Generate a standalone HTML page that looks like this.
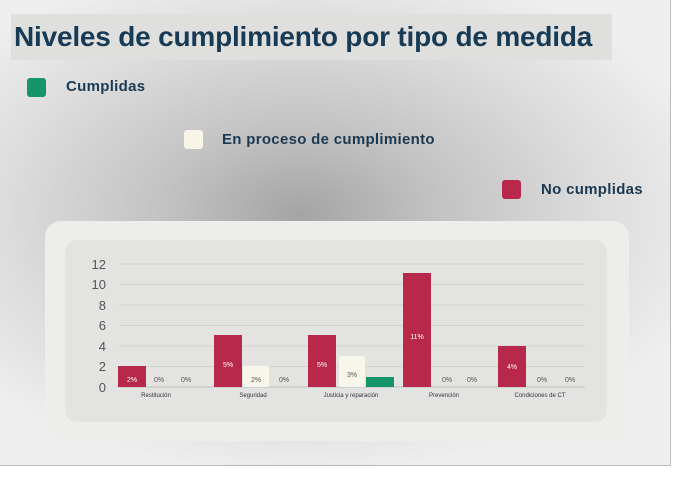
<!DOCTYPE html>
<html><head><meta charset="utf-8"><style>
body{margin:0;width:687px;height:480px;background:#fff;position:relative;overflow:hidden;font-family:"Liberation Sans",sans-serif}
#bg{position:absolute;left:0;top:0;width:670px;height:465px;background:radial-gradient(ellipse 420px 260px at 300px 215px,#a4a4a4 0%,#c4c4c4 35%,#dcdcdc 70%,#eeeeee 100%);border-right:1px solid #bbb;border-bottom:1px solid #bbb}
.t{position:absolute;left:11px;top:14px;width:601px;height:46px;background:#dfdfde;color:#173a55;font-weight:bold;font-size:28px;line-height:46px;padding-left:3px;box-sizing:border-box;letter-spacing:-0.2px}
.sw{position:absolute;width:19px;height:19px;border-radius:3px}
.lt{position:absolute;color:#1b3a52;font-weight:bold;font-size:15px;letter-spacing:0.3px}
.outer{position:absolute;left:45px;top:221px;width:584px;height:220px;background:#ededeb;border-radius:16px}
.inner{position:absolute;left:65px;top:240px;width:542px;height:182px;background:#e3e3e1;border-radius:12px}
</style></head><body>
<div id="bg"></div>
<div class="t">Niveles de cumplimiento por tipo de medida</div>
<div class="sw" style="left:27px;top:78px;background:#16956a"></div><div class="lt" style="left:66px;top:78px">Cumplidas</div>
<div class="sw" style="left:184px;top:130px;background:#f8f5e6"></div><div class="lt" style="left:222px;top:131px">En proceso de cumplimiento</div>
<div class="sw" style="left:502px;top:180px;background:#b8284a"></div><div class="lt" style="left:541px;top:181px">No cumplidas</div>
<div class="outer"></div><div class="inner"></div>
<svg style="position:absolute;left:0;top:0" width="687" height="480" font-family="Liberation Sans, sans-serif">
<g stroke="#d2d2d0" stroke-width="1">
<line x1="119" x2="585" y1="264" y2="264"/><line x1="119" x2="585" y1="284.5" y2="284.5"/><line x1="119" x2="585" y1="305" y2="305"/><line x1="119" x2="585" y1="325.5" y2="325.5"/><line x1="119" x2="585" y1="346" y2="346"/><line x1="119" x2="585" y1="366.5" y2="366.5"/><line x1="119" x2="585" y1="387" y2="387" stroke="#bdbdbb"/>
</g>
<g font-size="13" fill="#555" text-anchor="end">
<text x="106" y="269">12</text><text x="106" y="289">10</text><text x="106" y="310">8</text><text x="106" y="330">6</text><text x="106" y="351">4</text><text x="106" y="371">2</text><text x="106" y="392">0</text>
</g>
<g fill="#b8284a">
<rect x="118" y="366" width="28" height="21"/><rect x="214" y="335" width="28" height="52"/><rect x="308" y="335" width="28" height="52"/><rect x="403" y="273" width="28" height="114"/><rect x="498" y="346" width="28" height="41"/>
</g>
<g fill="#f8f6ea"><rect x="243" y="366" width="26" height="21"/><rect x="339" y="356" width="26" height="31"/></g>
<rect x="366" y="377" width="28" height="10" fill="#16956a"/>
<g font-size="7" fill="#fff" text-anchor="middle">
<text x="132" y="382">2%</text><text x="228" y="367">5%</text><text x="322" y="367">5%</text><text x="417" y="339">11%</text><text x="512" y="369">4%</text>
</g>
<g font-size="7" fill="#555" text-anchor="middle">
<text x="159" y="382">0%</text><text x="186" y="382">0%</text><text x="256" y="382">2%</text><text x="284" y="382">0%</text><text x="352" y="377">3%</text><text x="447" y="382">0%</text><text x="472" y="382">0%</text><text x="542" y="382">0%</text><text x="570" y="382">0%</text>
</g>
<g font-size="6" fill="#334" text-anchor="middle">
<text x="156" y="397">Restitución</text><text x="253" y="397">Seguridad</text><text x="351" y="397">Justicia y reparación</text><text x="444" y="397">Prevención</text><text x="540" y="397">Condiciones de CT</text>
</g>
</svg>
</body></html>
